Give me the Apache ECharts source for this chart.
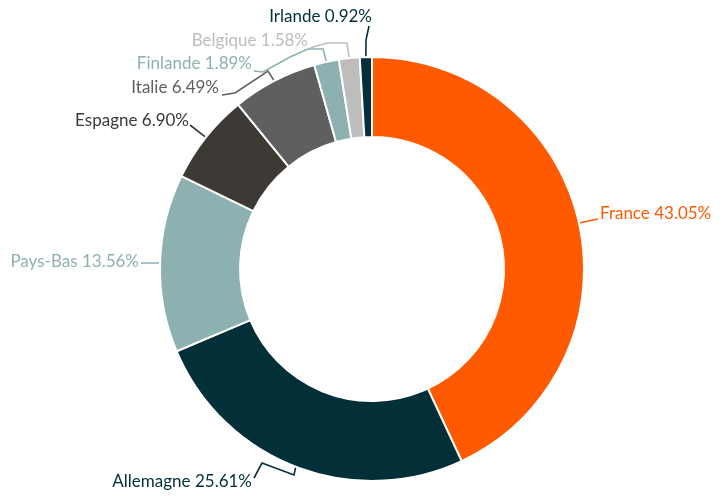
<!DOCTYPE html>
<html>
<head>
<meta charset="utf-8">
<script src="https://cdn.jsdelivr.net/npm/echarts@6/dist/echarts.min.js"></script>
<style>
  html, body { margin: 0; padding: 0; background: #fff; }
  #chart { width: 725px; height: 496px; }
</style>
</head>
<body>
<div id="chart"></div>
<script>
// 데이터
const countries = ['France', 'Allemagne', 'Pays-Bas', 'Espagne', 'Italie', 'Finlande', 'Belgique', 'Irlande'];
const shares = [43.05, 25.61, 13.56, 6.90, 6.49, 1.89, 1.58, 0.92];
const colors = ['#ff5a00', '#022f38', '#8db1b0', '#3d3935', '#5f5f5f', '#8db1b0', '#bdbdbb', '#022f38'];

// 라벨 위치 및 지시선 꺾임점 (원본 배치를 따름)
const labelSpots = [
    { x: 600, y: 214, align: 'left',  via: [[598, 219]] },
    { x: 252, y: 482, align: 'right', via: [[294, 475], [262, 463], [254, 478]] },
    { x: 139, y: 262, align: 'right', via: [[159, 263], [141, 263]] },
    { x: 189, y: 121, align: 'right', via: [[190, 125]] },
    { x: 219, y: 88,  align: 'right', via: [[268, 71], [235, 93], [222, 95]] },
    { x: 252, y: 64,  align: 'right', via: [[323, 49], [308, 49], [290, 57], [263, 72], [254, 71]] },
    { x: 308, y: 41,  align: 'right', via: [[347, 43], [327, 43], [310, 48]] },
    { x: 372, y: 17,  align: 'right', via: [[366, 40], [369, 26]] }
];

const chart = echarts.init(document.getElementById('chart'));

chart.setOption({
    animation: false,
    series: [{
        type: 'pie',
        center: [372, 269],
        radius: [132, 212],
        startAngle: 90,
        clockwise: true,
        itemStyle: { borderColor: '#fff', borderWidth: 2 },
        label: {
            show: true,
            fontFamily: 'Lato',
            fontSize: 17,
            overflow: 'none',
            formatter: p => p.name + ' ' + p.value.toFixed(2) + '%'
        },
        labelLine: { show: true, length: 10, length2: 10, lineStyle: { width: 1.6 } },
        labelLayout: function (params) {
            const s = labelSpots[params.dataIndex];
            const start = params.labelLinePoints ? params.labelLinePoints[0] : s.via[0];
            return {
                x: s.x,
                y: s.y,
                align: s.align,
                verticalAlign: 'middle',
                hideOverlap: false,
                labelLinePoints: [start].concat(s.via)
            };
        },
        data: countries.map((name, i) => ({
            name: name,
            value: shares[i],
            itemStyle: { color: colors[i] },
            label: { color: colors[i] },
            labelLine: { lineStyle: { color: colors[i] } }
        }))
    }]
});
</script>
</body>
</html>
